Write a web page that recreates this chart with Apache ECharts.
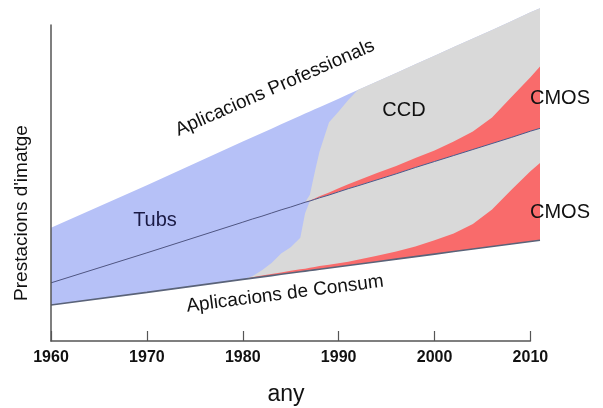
<!DOCTYPE html>
<html><head><meta charset="utf-8">
<script src="https://cdn.jsdelivr.net/npm/echarts@6/dist/echarts.min.js"></script>
<style>html,body{margin:0;padding:0;background:#fff}#c{width:603px;height:408px}</style>
</head><body><div id="c"></div>
<script>
// Years sampled along the x axis
const years      = [1960, 1970, 1980, 1981, 1982, 1983, 1984, 1985, 1986, 1986.5, 1987, 1987.5, 1988, 1989, 1990, 1991, 1992, 1994, 1996, 1998, 2000, 2002, 2004, 2006, 2008, 2010, 2011];
// Lower edge of the consumer band (Aplicacions de Consum)
const consumBase = [11.4, 15.4, 19.5, 19.9, 20.3, 20.7, 21.1, 21.5, 21.9, 22.1, 22.3, 22.5, 22.7, 23.1, 23.5, 23.9, 24.3, 25.1, 25.9, 26.7, 27.5, 28.3, 29.1, 29.9, 30.7, 31.5, 31.9];
// Consumer band layers (thickness), bottom to top
const consumCMOS = [0, 0, 0, 0.3, 0.4, 0.5, 0.6, 0.7, 0.8, 0.8, 0.9, 0.9, 1.0, 1.0, 1.1, 1.2, 1.4, 1.9, 2.4, 3.2, 4.4, 5.7, 7.9, 11.7, 17.1, 22.2, 24.4];
const consumCCD  = [0, 0, 0, 0.3, 1.7, 3.5, 6.0, 7.5, 10.0, 17.5, 21.1, 21.4, 21.6, 22.1, 22.6, 23.1, 23.4, 24.0, 24.6, 25.0, 24.9, 24.7, 23.6, 20.9, 16.6, 12.7, 11.0];
const consumTubs = [7.0, 12.5, 18.1, 18.1, 17.1, 15.8, 13.8, 12.7, 10.7, 3.5, 0, 0, 0, 0, 0, 0, 0, 0, 0, 0, 0, 0, 0, 0, 0, 0, 0];
// Professional band layers (thickness), bottom to top
const profCMOS   = [0, 0, 0, 0, 0, 0, 0, 0, 0, 0, 0.2, 0.3, 0.5, 0.8, 1.1, 1.4, 1.7, 2.2, 2.5, 3.0, 3.5, 4.4, 5.7, 8.2, 12.7, 17.1, 19.6];
const profCCD    = [0, 0, 0, 0, 0, 0, 0, 0, 0, 0, 1.8, 8.2, 14.1, 22.2, 24.3, 26.7, 28.6, 28.9, 29.4, 29.7, 30.0, 29.9, 29.4, 27.7, 24.1, 20.5, 18.4];
const profTubs   = [17.4, 21.4, 25.5, 25.9, 26.3, 26.7, 27.1, 27.5, 27.9, 28.1, 26.3, 20.0, 14.1, 6.1, 4.1, 1.8, 0, 0, 0, 0, 0, 0, 0, 0, 0, 0, 0];
// Axis ticks
const xMin = 1960, xMax = 2010, xStep = 10;

const BLUE = '#b6c1f7', GRAY = '#d9d9d9', RED = '#f96b6b';
const FONT = "'Liberation Sans', Arial, sans-serif";

// cumulative upper edges of each layer (stack computed here, painted top-down)
const layers = [consumBase, consumCMOS, consumCCD, consumTubs, profCMOS, profCCD, profTubs];
const cum = [];
let run = years.map(() => 0);
layers.forEach(arr => { run = run.map((v, i) => +(v + arr[i]).toFixed(2)); cum.push(run); });
function pairs(arr) { return years.map((y, i) => [y, arr[i]]); }
function fill(name, arr, color, z) {
  return {
    type: 'line', name: name, data: pairs(arr),
    symbol: 'none', showSymbol: false, silent: true, animation: false,
    lineStyle: { width: 0 },
    areaStyle: { color: color, opacity: 1, origin: 'start' },
    z: z
  };
}
function edge(name, arr, color, width, z) {
  return {
    type: 'line', name: name, data: pairs(arr),
    symbol: 'none', showSymbol: false, silent: true, animation: false,
    lineStyle: { width: width, color: color }, z: z
  };
}

// plot scale: 1960 at x=51, 2011 at x=540 (same px/year in both grids)
const pxPerYear = 489 / 51;
const chart = echarts.init(document.getElementById('c'), null, { renderer: 'canvas' });
chart.setOption({
  animation: false,
  backgroundColor: '#ffffff',
  grid: [
    { left: 51, right: 603 - 540, top: 2.88, bottom: 67 },
    { left: 51, right: 603 - 51 - pxPerYear * (xMax - xMin), top: 25, bottom: 67 }
  ],
  xAxis: [
    { gridIndex: 0, type: 'value', min: 1960, max: 2011, show: false },
    { gridIndex: 1, type: 'value', min: xMin, max: xMax, interval: xStep, z: 20,
      axisLine: { show: true, lineStyle: { color: '#555555', width: 1.5 } },
      axisTick: { show: true, inside: true, length: 10, lineStyle: { color: '#555555', width: 1.2 } },
      axisLabel: { show: true, margin: 9, color: '#111111', fontSize: 16, fontWeight: 'bold', fontFamily: FONT,
                   formatter: v => String(v) },
      splitLine: { show: false } }
  ],
  yAxis: [
    { gridIndex: 0, type: 'value', min: 0, max: 107, show: false },
    { gridIndex: 1, type: 'value', min: 0, max: 100, z: 20,
      axisLine: { show: true, lineStyle: { color: '#555555', width: 1.5 } },
      axisTick: { show: false }, axisLabel: { show: false }, splitLine: { show: false } }
  ],
  series: [
    fill('Prof Tubs', cum[6], BLUE, 2),
    fill('Prof CCD', cum[5], GRAY, 3),
    fill('Prof CMOS', cum[4], RED, 4),
    fill('Consum Tubs', cum[3], BLUE, 5),
    fill('Consum CCD', cum[2], GRAY, 6),
    fill('Consum CMOS', cum[1], RED, 7),
    fill('below', cum[0], '#ffffff', 8),
    edge('divisio', cum[3], '#4c5888', 1, 9),
    edge('base', cum[0], '#5a6379', 1.6, 9)
  ],
  graphic: [
    { type: 'text', x: 275, y: 88, rotation: 0.412, z: 10,
      style: { text: 'Aplicacions Professionals', fontSize: 19, fontFamily: FONT, fill: '#111', align: 'center', verticalAlign: 'middle' } },
    { type: 'text', x: 285, y: 294, rotation: 0.127, z: 10,
      style: { text: 'Aplicacions de Consum', fontSize: 19, fontFamily: FONT, fill: '#111', align: 'center', verticalAlign: 'middle' } },
    { type: 'text', x: 155, y: 220, z: 10,
      style: { text: 'Tubs', fontSize: 20, fontFamily: FONT, fill: '#1a1a44', align: 'center', verticalAlign: 'middle' } },
    { type: 'text', x: 404, y: 110, z: 10,
      style: { text: 'CCD', fontSize: 20, fontFamily: FONT, fill: '#111', align: 'center', verticalAlign: 'middle' } },
    { type: 'text', x: 560, y: 98, z: 10,
      style: { text: 'CMOS', fontSize: 20, fontFamily: FONT, fill: '#111', align: 'center', verticalAlign: 'middle' } },
    { type: 'text', x: 560, y: 212, z: 10,
      style: { text: 'CMOS', fontSize: 20, fontFamily: FONT, fill: '#111', align: 'center', verticalAlign: 'middle' } },
    { type: 'text', x: 286, y: 395, z: 10,
      style: { text: 'any', fontSize: 23, fontFamily: FONT, fill: '#111', align: 'center', verticalAlign: 'middle' } },
    { type: 'text', x: 22, y: 213, rotation: Math.PI / 2, z: 10,
      style: { text: "Prestacions d'imatge", fontSize: 19, fontFamily: FONT, fill: '#111', align: 'center', verticalAlign: 'middle' } }
  ]
});
</script>
</body></html>
